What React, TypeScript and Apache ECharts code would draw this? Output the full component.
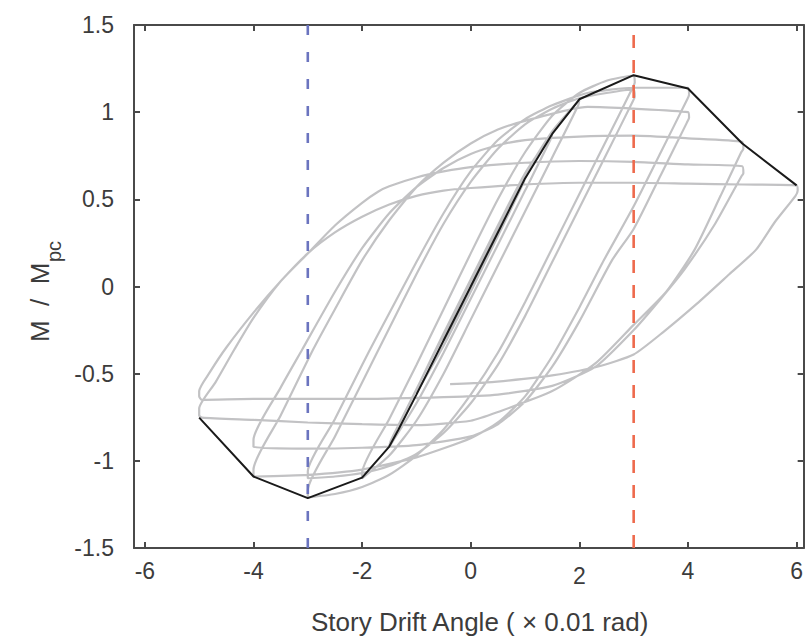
import React, { useEffect, useRef } from 'react';
import * as echarts from 'echarts';

const xTickValues = [-6, -4, -2, 0, 2, 4, 6];
const yMin = -1.5;
const yMax = 1.5;
const xMin = -6.2;
const xMax = 6.13;
const limitDrifts = [-3, 3];

// Backbone (skeleton) curve
const backbone: number[][] = [
  [-5, -0.752], [-4, -1.09], [-3, -1.214], [-2, -1.096], [-1.5, -0.918], [-1.33, -0.82],
  [-1, -0.62], [-0.5, -0.31], [0, 0.0], [0.5, 0.31], [1, 0.62], [1.5, 0.875], [2, 1.074],
  [3, 1.212], [4, 1.136], [5, 0.82], [6, 0.58],
];

// Hysteresis branches in loading order
const smallCycles: number[][] = [
  [0, 0], [0.25, 0.16], [0.5, 0.32], [0.48, 0.29], [0, -0.02], [-0.5, -0.31], [-0.48, -0.28],
  [0, 0.03], [0.5, 0.33], [1, 0.63], [0.98, 0.6], [0.5, 0.29], [0, -0.03], [-0.5, -0.34],
  [-1, -0.61], [-0.98, -0.58], [-0.5, -0.27], [0, 0.04], [0.5, 0.35], [1, 0.65], [1.5, 0.88],
  [1.48, 0.85], [1, 0.55], [0.5, 0.24], [0, -0.07], [-0.5, -0.38], [-1, -0.67], [-1.5, -0.92],
  [-1.48, -0.89], [-1, -0.59], [-0.5, -0.28], [0, 0.03], [0.5, 0.34], [1, 0.64], [1.5, 0.89],
  [2, 1.07], [1.98, 1.04], [1.5, 0.74], [1, 0.43], [0.5, 0.12], [0, -0.19], [-0.5, -0.5],
  [-1, -0.77], [-1.5, -0.97], [-2, -1.1],
];
const up3a: number[][] = [
  [-2, -1.1], [-2, -1.07], [-1.5, -0.76], [-1, -0.45], [-0.5, -0.13], [0, 0.19], [0.5, 0.5],
  [1, 0.77], [1.5, 0.98], [2, 1.11], [2.5, 1.18], [3, 1.21],
];
const down3a: number[][] = [
  [3.02, 1.17], [2.98, 1.14], [2.5, 0.84], [2, 0.53], [1.5, 0.22], [1, -0.09], [0.5, -0.38],
  [0, -0.62], [-0.5, -0.82], [-1, -0.97], [-1.5, -1.08], [-2, -1.15], [-2.5, -1.19], [-3, -1.21],
];
const up3b: number[][] = [
  [-3, -1.17], [-2.5, -0.86], [-2, -0.55], [-1.5, -0.24], [-1, 0.07], [-0.5, 0.36], [0, 0.6],
  [0.5, 0.79], [1, 0.93], [1.5, 1.02], [2, 1.08], [2.5, 1.11], [3, 1.13],
];
const down3b: number[][] = [
  [3.02, 1.09], [2.98, 1.06], [2.5, 0.76], [2, 0.45], [1.5, 0.14], [1, -0.17], [0.5, -0.45],
  [0, -0.67], [-0.5, -0.84], [-1, -0.96], [-1.5, -1.03], [-2, -1.07], [-2.5, -1.09], [-3, -1.1],
];
const up4a: number[][] = [
  [-3, -1.06], [-2.5, -0.76], [-2, -0.45], [-1.75, -0.3], [-1, 0.14], [-0.5, 0.42], [0, 0.66],
  [0.5, 0.84], [1, 0.96], [1.5, 1.04], [2.15, 1.11], [3, 1.14], [4, 1.14],
];
const down4a: number[][] = [
  [4.02, 1.1], [3.98, 1.07], [3.5, 0.77], [3, 0.46], [2.45, 0.15], [2, -0.12], [1.5, -0.4],
  [1, -0.63], [0.5, -0.78], [0, -0.87], [-1, -0.98], [-2, -1.05], [-3, -1.08], [-4, -1.09],
];
const up4b: number[][] = [
  [-4, -1.05], [-3.5, -0.74], [-2.9, -0.36], [-2.5, -0.13], [-2, 0.15], [-1.5, 0.38],
  [-1, 0.57], [-0.5, 0.71], [0, 0.82], [0.5, 0.9], [1, 0.95], [2.15, 1.03], [3, 1.02], [4, 1.0],
];
const down4b: number[][] = [
  [4.02, 0.97], [3.98, 0.94], [3.5, 0.64], [3, 0.33], [2.6, 0.15], [2, -0.2], [1.5, -0.46],
  [1, -0.66], [0.5, -0.79], [0, -0.86], [-1, -0.91], [-2, -0.925], [-3, -0.93], [-4, -0.92],
];
const up5a: number[][] = [
  [-4, -0.88], [-3.5, -0.58], [-3.1, -0.36], [-2.5, -0.03], [-2, 0.22], [-1.5, 0.42],
  [-1, 0.57], [-0.5, 0.68], [0, 0.76], [0.5, 0.81], [1, 0.84], [2, 0.86], [3, 0.865],
  [4, 0.85], [5, 0.83],
];
const down5a: number[][] = [
  [5.02, 0.79], [4.98, 0.77], [4.6, 0.52], [4.12, 0.21], [3.6, -0.03], [3, -0.22],
  [2.3, -0.44], [1.5, -0.6], [0.5, -0.72], [0, -0.77], [-1, -0.795], [-2, -0.79],
  [-3, -0.78], [-4, -0.765], [-4.95, -0.752], [-5, -0.74],
];
const up5b: number[][] = [
  [-5, -0.7], [-4.7, -0.55], [-4.35, -0.36], [-4, -0.18], [-3.5, 0.03], [-3, 0.19],
  [-2.5, 0.35], [-2, 0.48], [-1.7, 0.545], [-1.5, 0.575], [-1, 0.625], [-0.5, 0.66],
  [0, 0.685], [1, 0.71], [2, 0.72], [3, 0.715], [4, 0.7], [5, 0.69],
];
const down5b: number[][] = [
  [5.02, 0.65], [4.98, 0.63], [4.5, 0.36], [3.94, 0.1], [3.5, -0.07], [3, -0.25],
  [2.3, -0.46], [1.5, -0.57], [0.5, -0.62], [-0.5, -0.635], [-2, -0.645], [-3, -0.645],
  [-4, -0.645], [-4.95, -0.65], [-5, -0.63],
];
const up6: number[][] = [
  [-5, -0.6], [-4.8, -0.49], [-4.5, -0.35], [-4, -0.15], [-3.5, 0.03], [-3, 0.19],
  [-2.5, 0.31], [-2, 0.4], [-1.5, 0.47], [-1, 0.52], [-0.5, 0.55], [0, 0.565], [1, 0.585],
  [2, 0.595], [3, 0.595], [4, 0.59], [5, 0.585], [6, 0.58],
];
const down6: number[][] = [
  [6.02, 0.55], [5.98, 0.52], [5.6, 0.37], [5.25, 0.21], [4.76, 0.07], [4.16, -0.1],
  [3.55, -0.26], [3, -0.39], [2.33, -0.46], [1.5, -0.51], [0.98, -0.53], [0.3, -0.55],
  [-0.38, -0.56],
];

const hysteresis: number[][] = [
  ...smallCycles, ...up3a, ...down3a, ...up3b, ...down3b, ...up4a, ...down4a, ...up4b,
  ...down4b, ...up5a, ...down5a, ...up5b, ...down5b, ...up6, ...down6,
];

const AXIS_COLOR = '#4a4a4a';
const TEXT_COLOR = '#3c3c3c';
const FONT = 'Liberation Sans, Arial, sans-serif';

export default function App() {
  const ref = useRef<HTMLDivElement>(null);
  useEffect(() => {
    if (!ref.current) return;
    const chart = echarts.init(ref.current, undefined, { renderer: 'svg' });
    const axisLineStyle = { lineStyle: { color: AXIS_COLOR, width: 2 } };
    const tickStyle = { inside: true, length: 6, lineStyle: { color: AXIS_COLOR, width: 2 } };
    const grid = { left: 134, top: 25, width: 674, height: 523 };
    chart.setOption({
      animation: false,
      backgroundColor: '#ffffff',
      grid,
      xAxis: [
        {
          type: 'value', min: xMin, max: xMax, position: 'bottom',
          axisLine: { show: true, onZero: false, ...axisLineStyle },
          axisTick: { ...tickStyle, customValues: xTickValues },
          axisLabel: {
            customValues: xTickValues, color: TEXT_COLOR, fontSize: 23, fontFamily: FONT, margin: 11,
            formatter: (v: number) => (v === 2 ? '{low|2}' : String(v)),
            rich: { low: { fontSize: 23, fontFamily: FONT, color: TEXT_COLOR, padding: [5, 0, 0, 0] } },
          },
          splitLine: { show: false },
        },
        {
          type: 'value', min: xMin, max: xMax, position: 'top',
          axisLine: { show: true, onZero: false, ...axisLineStyle },
          axisTick: { ...tickStyle, customValues: xTickValues },
          axisLabel: { show: false },
          splitLine: { show: false },
        },
      ],
      yAxis: [
        {
          type: 'value', min: yMin, max: yMax, interval: 0.5, position: 'left',
          axisLine: { show: true, onZero: false, ...axisLineStyle },
          axisTick: tickStyle,
          axisLabel: { color: TEXT_COLOR, fontSize: 23, fontFamily: FONT, margin: 20, padding: [0, 0, 10, 0] },
          splitLine: { show: false },
        },
        {
          type: 'value', min: yMin, max: yMax, interval: 0.5, position: 'right',
          axisLine: { show: true, onZero: false, ...axisLineStyle },
          axisTick: tickStyle,
          axisLabel: { show: false },
          splitLine: { show: false },
        },
      ],
      graphic: [
        {
          type: 'text', x: 311, y: 622,
          style: {
            text: 'Story Drift Angle ( × 0.01 rad)', fill: TEXT_COLOR, fontSize: 26, fontFamily: FONT,
            verticalAlign: 'middle',
          },
        },
        {
          type: 'text', x: 27, y: 342, rotation: Math.PI / 2,
          style: { text: 'M  /  M', fill: TEXT_COLOR, fontSize: 26, fontFamily: FONT },
        },
        {
          type: 'text', x: 44, y: 262, rotation: Math.PI / 2,
          style: { text: 'pc', fill: TEXT_COLOR, fontSize: 20, fontFamily: FONT },
        },
      ],
      series: [
        {
          type: 'line', data: hysteresis, showSymbol: false, smooth: 0.2, z: 2,
          lineStyle: { color: '#c2c2c4', width: 2.2 },
        },
        {
          type: 'line', data: backbone, showSymbol: false, z: 3,
          lineStyle: { color: '#1a1a1a', width: 2 },
        },
        {
          type: 'line', data: [[limitDrifts[0], yMin], [limitDrifts[0], yMax]], showSymbol: false, z: 4,
          lineStyle: { color: '#6b74bf', width: 2.6, type: [10, 17] },
        },
        {
          type: 'line', data: [[limitDrifts[1], yMin], [limitDrifts[1], yMax]], showSymbol: false, z: 4,
          lineStyle: { color: '#ee6a4d', width: 2.6, type: [13, 12] },
        },
      ],
    });
    return () => chart.dispose();
  }, []);
  return <div ref={ref} style={{ position: 'absolute', left: 0, top: 0, width: 806, height: 643 }} />;
}
